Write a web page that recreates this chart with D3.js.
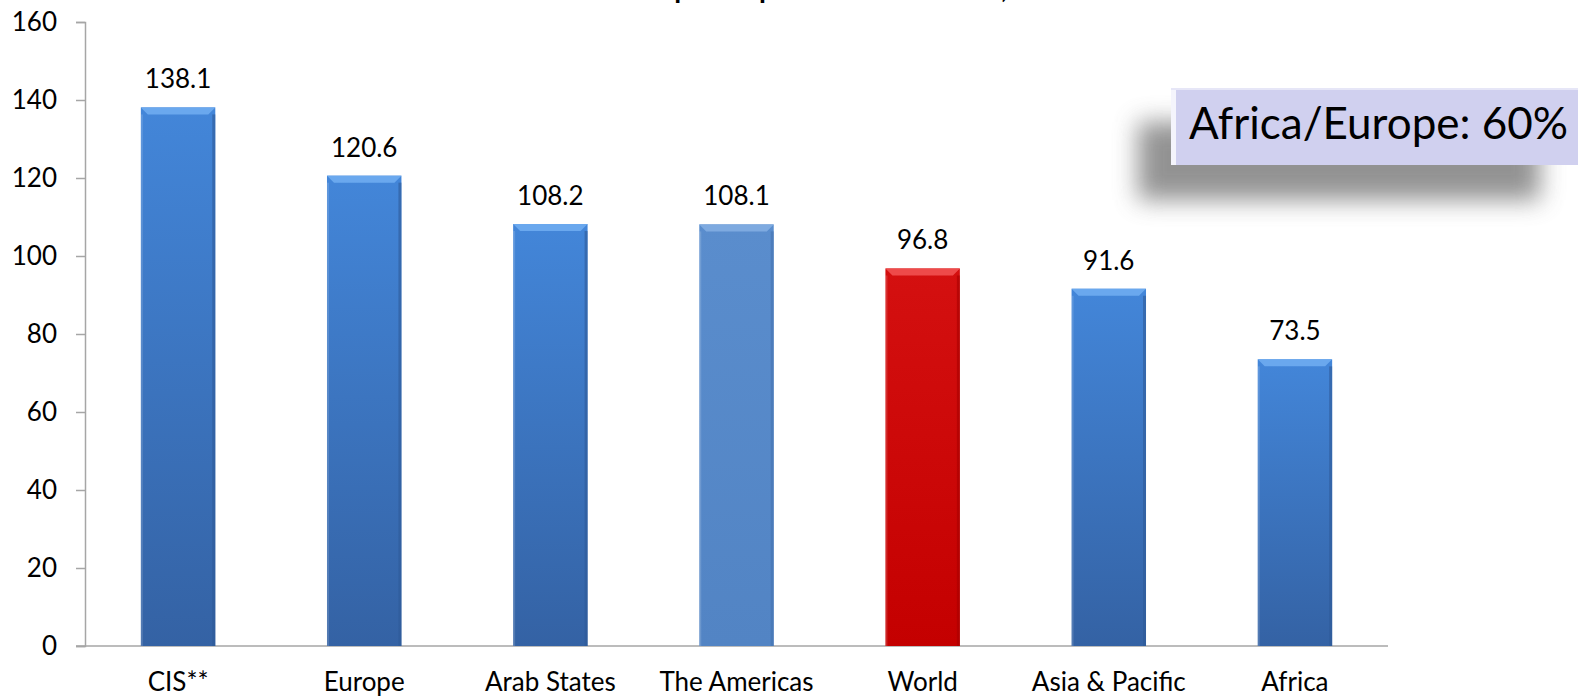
<!DOCTYPE html>
<html>
<head>
<meta charset="utf-8">
<script src="https://cdn.jsdelivr.net/npm/d3@7"></script>
<style>
  body { margin: 0; background: #fff; }
  text { font-family: Lato, "Open Sans", sans-serif; }
</style>
</head>
<body>
<div id="chart"></div>
<script>
// data
const regions = ['CIS**', 'Europe', 'Arab States', 'The Americas', 'World', 'Asia & Pacific', 'Africa'];
const penetration = [138.1, 120.6, 108.2, 108.1, 96.8, 91.6, 73.5];
const yTicks = [0, 20, 40, 60, 80, 100, 120, 140, 160];
const titleText = 'Mobile-cellular subscriptions per 100 inhabitants, 2014*';
const noteText = 'Africa/Europe: 60%';

const W = 1578, H = 696;
const margin = { top: 22, right: 190, bottom: 50, left: 85 };
const width = W - margin.left - margin.right;
const height = H - margin.top - margin.bottom;

const data = regions.map((r, i) => ({ region: r, value: penetration[i] }));

// bar look per region
function barStyle(r) {
    if (r === 'World') return { top: '#d41010', bot: '#c40000', bevel: '#ee4a4a', side: '#a80000' };
    if (r === 'The Americas') return { top: '#5a8dcd', bot: '#5284c4', bevel: '#7eaae0', side: '#4473b0' };
    return { top: '#4386d9', bot: '#3462a4', bevel: '#6aa8ee', side: '#2f5a98' };
}

const svg = d3.select('#chart').append('svg')
    .attr('width', W).attr('height', H);
const defs = svg.append('defs');

defs.append('filter').attr('id', 'blur')
    .attr('x', '-30%').attr('y', '-60%').attr('width', '160%').attr('height', '220%')
    .append('feGaussianBlur').attr('stdDeviation', 12);

data.forEach((d, i) => {
    const s = barStyle(d.region);
    const g = defs.append('linearGradient').attr('id', 'grad' + i)
        .attr('x1', 0).attr('y1', 0).attr('x2', 0).attr('y2', 1);
    g.append('stop').attr('offset', '0%').attr('stop-color', s.top);
    g.append('stop').attr('offset', '100%').attr('stop-color', s.bot);
});

// title (mostly cut off by the top edge, as in the source)
const title = svg.append('text')
    .attr('y', -2)
    .attr('font-size', 28)
    .attr('font-weight', 'bold')
    .attr('fill', '#000')
    .text(titleText);
const pIdx = titleText.indexOf('per ');
const preLen = title.node().getSubStringLength(0, pIdx);
title.attr('x', 759 - preLen);

const g = svg.append('g').attr('transform', `translate(${margin.left},${margin.top})`);

const x = d3.scaleBand().domain(regions).range([0, width]).paddingInner(0.6).paddingOuter(0.3);
const y = d3.scaleLinear().domain([0, 160]).range([height, 0]);

// y axis
const yAxis = g.append('g')
    .call(d3.axisLeft(y).tickValues(yTicks).tickSize(9).tickPadding(19));
yAxis.select('.domain').attr('stroke', '#a6a6a6').attr('stroke-width', 1.5);
yAxis.selectAll('.tick line').attr('stroke', '#a6a6a6').attr('stroke-width', 1.5);
yAxis.selectAll('.tick text').attr('font-size', 26).attr('fill', '#000')
    .style('font-family', 'Lato, sans-serif');

// x axis
const xAxis = g.append('g').attr('transform', `translate(0,${height})`)
    .call(d3.axisBottom(x).tickSize(0).tickPadding(27));
xAxis.select('.domain').attr('stroke', '#a6a6a6').attr('stroke-width', 1.5)
    .attr('d', `M-9,0H${width}`);
xAxis.selectAll('.tick text').attr('font-size', 26).attr('fill', '#000')
    .attr('dy', '0.71em')
    .style('font-family', 'Lato, sans-serif');

// bars with bevel
const bv = 7;
const bars = g.selectAll('g.bar').data(data).enter().append('g').attr('class', 'bar');
bars.append('rect')
    .attr('x', d => x(d.region))
    .attr('y', d => y(d.value))
    .attr('width', x.bandwidth())
    .attr('height', d => height - y(d.value))
    .attr('fill', (d, i) => `url(#grad${i})`);
bars.append('polygon')
    .attr('points', d => {
        const x0 = x(d.region), x1 = x0 + x.bandwidth(), y0 = y(d.value);
        return `${x0},${y0} ${x1},${y0} ${x1 - bv},${y0 + bv} ${x0 + bv},${y0 + bv}`;
    })
    .attr('fill', d => barStyle(d.region).bevel);
bars.append('rect')
    .attr('x', d => x(d.region) + x.bandwidth() - 3)
    .attr('y', d => y(d.value) + bv)
    .attr('width', 3)
    .attr('height', d => Math.max(0, height - y(d.value) - bv))
    .attr('fill', d => barStyle(d.region).side)
    .attr('opacity', 0.6);
bars.append('rect')
    .attr('x', d => x(d.region))
    .attr('y', d => y(d.value) + bv)
    .attr('width', 2)
    .attr('height', d => Math.max(0, height - y(d.value) - bv))
    .attr('fill', '#fff')
    .attr('opacity', 0.15);

// value labels
bars.append('text')
    .attr('x', d => x(d.region) + x.bandwidth() / 2)
    .attr('y', d => y(d.value) - 19)
    .attr('text-anchor', 'middle')
    .attr('font-size', 26)
    .attr('fill', '#000')
    .text(d => d.value.toFixed(1));

// annotation box with soft shadow
const note = svg.append('g');
note.append('rect')
    .attr('x', 1138).attr('y', 122).attr('width', 402).attr('height', 78)
    .attr('fill', '#6e6e6e').attr('opacity', 0.75)
    .attr('filter', 'url(#blur)');
note.append('rect')
    .attr('x', 1171).attr('y', 88).attr('width', 420).attr('height', 77)
    .attr('fill', '#d0d0ef');
note.append('rect')
    .attr('x', 1171).attr('y', 88).attr('width', 5).attr('height', 77)
    .attr('fill', '#f4f4fc');
note.append('rect')
    .attr('x', 1171).attr('y', 88).attr('width', 420).attr('height', 2)
    .attr('fill', '#e6e6f7');
note.append('text')
    .attr('x', 1189).attr('y', 139)
    .attr('font-size', 44)
    .attr('fill', '#000')
    .text(noteText);
</script>
</body>
</html>
